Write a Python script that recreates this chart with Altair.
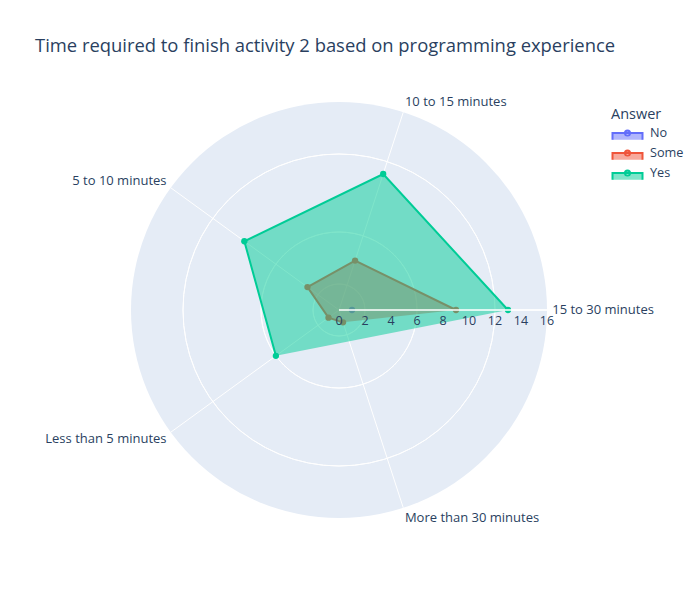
import altair as alt
import pandas as pd

# ---- data ----
title_text = ["Time required to finish activity 2 based on programming experience"]
categories = ["15 to 30 minutes", "10 to 15 minutes", "5 to 10 minutes",
              "Less than 5 minutes", "More than 30 minutes"]
answers = ["No", "Some", "Yes"]
# None = the answer has no entry for that category
no_values = [1, None, None, None, None]
some_values = [9, 4, 3, 1, 1]
yes_values = [13, 11, 9, 6, None]
radial_ticks = [0, 2, 4, 6, 8, 10, 12, 14, 16]
radial_max = 16
line_colors = ["#636efa", "#EF553B", "#00cc96"]
fill_colors = ["rgba(99,110,250,0.5)", "rgba(239,85,59,0.5)", "rgba(0,204,150,0.5)"]

TEXT = "#2a3f5f"
FONT = "Open Sans"
N = len(categories)

rows = []
for ans, vals in zip(answers, [no_values, some_values, yes_values]):
    for i, (c, v) in enumerate(zip(categories, vals)):
        if v is not None:
            rows.append({"Answer": ans, "category": c, "idx": i, "value": v})
series = pd.DataFrame(rows)
cats = pd.DataFrame({"category": categories, "idx": list(range(N)), "r": radial_max})
ticks = pd.DataFrame({"t": radial_ticks})
rings = pd.DataFrame({"r": [t for t in radial_ticks if 0 < t < radial_max]})
outer = pd.DataFrame({"r": [radial_max]})
titles = pd.DataFrame({"title": title_text})

xs = alt.Scale(domain=[-radial_max, radial_max], nice=False, zero=False)
ys = alt.Scale(domain=[-radial_max, radial_max], nice=False, zero=False)
rs = alt.Scale(type="linear", domain=[0, radial_max], zero=True)
ang = f"datum.idx * 2 * PI / {N}"


def X(f):
    return alt.X(f, type="quantitative", scale=xs, axis=None)


def Y(f):
    return alt.Y(f, type="quantitative", scale=ys, axis=None)


bg = alt.Chart(outer).mark_arc(theta=0, theta2=6.2832, color="#E5ECF6").transform_calculate(
    cx="0", cy="0").encode(x=X("cx"), y=Y("cy"), radius=alt.Radius("r:Q", scale=rs))

grid_rings = alt.Chart(rings).mark_arc(theta=0, theta2=6.2832, fillOpacity=0, stroke="white",
                                       strokeWidth=1).transform_calculate(
    cx="0", cy="0").encode(x=X("cx"), y=Y("cy"), radius=alt.Radius("r:Q", scale=rs))

spokes = alt.Chart(cats).mark_rule(color="white", strokeWidth=1).transform_calculate(
    a=ang, x0="0", y0="0", x1="datum.r * cos(datum.a)", y1="datum.r * sin(datum.a)"
).encode(x=X("x0"), y=Y("y0"), x2="x1:Q", y2="y1:Q")

stroke_scale = alt.Scale(domain=answers, range=line_colors)
fill_scale = alt.Scale(domain=answers, range=fill_colors)
legend = alt.Legend(orient="none", legendX=480, legendY=6, title="Answer",
                    titleFontSize=14.5, titleFontWeight="normal", titleColor=TEXT, titleFont=FONT,
                    labelFontSize=12.7, labelColor=TEXT, labelFont=FONT,
                    symbolType="M2,0.9L2,0L-2,0L-2,0.9M0.34,0A0.34,0.34 0 1,1 -0.34,0A0.34,0.34 0 1,1 0.34,0",
                    symbolSize=225, symbolStrokeWidth=2, symbolOffset=8,
                    rowPadding=-2, titlePadding=2, labelOffset=14)

poly_base = alt.Chart(series).transform_calculate(
    a=ang, px="datum.value * cos(datum.a)", py="datum.value * sin(datum.a)")

trace_layers = []
for ans in answers:
    b = poly_base.transform_filter(alt.datum.Answer == ans)
    area = b.mark_line(interpolate="linear-closed", strokeWidth=0).encode(
        x=X("px"), y=Y("py"),
        fill=alt.Fill("Answer:N", scale=fill_scale, legend=legend),
        order=alt.Order("idx:Q"),
    )
    line = b.mark_line(interpolate="linear", strokeWidth=2).encode(
        x=X("px"), y=Y("py"),
        stroke=alt.Stroke("Answer:N", scale=stroke_scale, legend=legend),
        order=alt.Order("idx:Q"),
    )
    pts = b.mark_point(filled=True, size=40, opacity=1).encode(
        x=X("px"), y=Y("py"),
        color=alt.Color("Answer:N", scale=stroke_scale, legend=None),
    )
    trace_layers += [area, line, pts]

radial_line = alt.Chart(outer).mark_rule(color="white", strokeWidth=1.5).transform_calculate(
    x0="0", y0="0").encode(x=X("x0"), y=Y("y0"), x2="r:Q")

tick_text = alt.Chart(ticks).mark_text(dy=11, fontSize=12.5, color=TEXT, font=FONT,
                                       align="center", baseline="middle").transform_calculate(
    y0="0").encode(x=X("t"), y=Y("y0"), text="t:Q")

lab_base = alt.Chart(cats).transform_calculate(
    a=ang, lx="16.4 * cos(datum.a)", ly="16.85 * sin(datum.a)")
labels_r = lab_base.transform_filter("cos(datum.a) >= 0").mark_text(
    align="left", baseline="middle", fontSize=13, color=TEXT, font=FONT).encode(
    x=X("lx"), y=Y("ly"), text="category:N")
labels_l = lab_base.transform_filter("cos(datum.a) < 0").mark_text(
    align="right", baseline="middle", fontSize=13, color=TEXT, font=FONT).encode(
    x=X("lx"), y=Y("ly"), text="category:N")

title_mark = alt.Chart(titles).mark_text(
    align="left", baseline="alphabetic", fontSize=18.4, color=TEXT, font=FONT).encode(
    x=alt.value(-96), y=alt.value(-50), text="title:N")

chart = alt.layer(bg, grid_rings, spokes, *trace_layers, radial_line, tick_text,
                  labels_r, labels_l, title_mark).properties(
    width=416, height=416,
    background="white",
    autosize=alt.AutoSizeParams(type="none"),
    padding={"left": 131, "top": 102, "right": 153, "bottom": 82},
).configure_view(strokeWidth=0, stroke="transparent")

chart.save("out.html", embed_options={"renderer": "svg", "actions": False})
